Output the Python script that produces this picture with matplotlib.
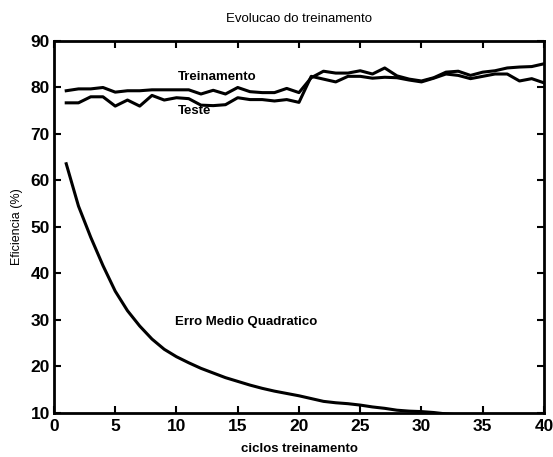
import numpy as np
import matplotlib
matplotlib.use("Agg")
import matplotlib.pyplot as plt

plt.rcParams['font.family'] = ['Liberation Sans', 'DejaVu Sans']

# ciclos de treinamento
ciclos = list(range(1, 41))

# eficiencia no conjunto de treinamento (%)
treinamento = [79.3, 79.7, 79.7, 80.0, 79.0, 79.3, 79.3, 79.5, 79.5, 79.5,
               79.5, 78.6, 79.4, 78.6, 80.0, 79.1, 78.9, 78.9, 79.8, 78.9,
               82.1, 83.5, 83.1, 83.1, 83.6, 82.9, 84.2, 82.5, 81.8, 81.4,
               82.1, 83.3, 83.5, 82.6, 83.3, 83.6, 84.2, 84.4, 84.5, 85.1]

# eficiencia no conjunto de teste (%)
teste = [76.7, 76.7, 78.0, 78.0, 76.0, 77.3, 76.0, 78.3, 77.3, 77.8,
         77.6, 76.2, 76.1, 76.3, 77.8, 77.4, 77.4, 77.1, 77.4, 76.8,
         82.4, 81.8, 81.2, 82.4, 82.4, 82.0, 82.2, 82.1, 81.6, 81.2,
         82.0, 82.9, 82.6, 81.9, 82.4, 82.9, 82.9, 81.4, 81.9, 81.0]

# erro medio quadratico
erro = [63.6, 54.5, 47.8, 41.7, 36.2, 32.0, 28.7, 25.9, 23.7, 22.1,
        20.8, 19.6, 18.6, 17.6, 16.8, 16.0, 15.3, 14.7, 14.2, 13.7,
        13.1, 12.5, 12.2, 12.0, 11.7, 11.3, 11.0, 10.6, 10.4, 10.3,
        10.1, 9.8, 9.6, 9.5, 9.4, 9.3, 9.2, 9.1, 9.0, 8.9]

fig = plt.figure(figsize=(5.53, 4.57), dpi=100)
ax = fig.add_axes([0.0976, 0.0963, 0.8861, 0.814])

ax.plot(ciclos, treinamento, color='black', linewidth=2.2)
ax.plot(ciclos, teste, color='black', linewidth=2.2)
ax.plot(ciclos, erro, color='black', linewidth=2.2)

ax.text(10.1, 82.3, "Treinamento", fontsize=9.5, fontweight='bold', va='center')
ax.text(10.1, 75.0, "Teste", fontsize=9.5, fontweight='bold', va='center')
ax.text(9.9, 29.6, "Erro Medio Quadratico", fontsize=9.5, fontweight='bold', va='center')

ax.set_xlim(0, 40)
ax.set_ylim(10, 90)
ax.set_xticks(range(0, 41, 5))
ax.set_yticks(range(10, 91, 10))
ax.tick_params(direction='in', top=True, right=True, length=5, width=1.5,
               labelsize=12.5, pad=4)
ax.tick_params(axis='y', pad=3)
for lab in ax.get_xticklabels() + ax.get_yticklabels():
    lab.set_fontweight('bold')
for s in ax.spines.values():
    s.set_linewidth(2)

ax.set_title("Evolucao do treinamento", fontsize=9.5, pad=14)
ax.set_xlabel("ciclos treinamento", fontsize=9.5, fontweight='bold', labelpad=7)
ax.set_ylabel("Eficiencia (%)", fontsize=9, labelpad=5)

fig.savefig("out.png", dpi=100)
